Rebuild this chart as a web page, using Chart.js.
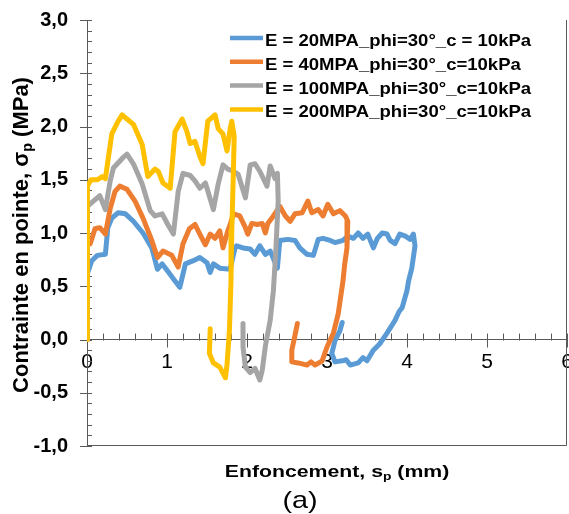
<!DOCTYPE html>
<html>
<head>
<meta charset="utf-8">
<script src="https://cdn.jsdelivr.net/npm/chart.js@4.4.1/dist/chart.umd.min.js"></script>
<style>
  html, body { margin: 0; padding: 0; background: #fff; }
</style>
</head>
<body>
<canvas id="myChart" width="569" height="514"></canvas>
<script>
// series labels and colours
const seriesLabels = [
  'E = 20MPA_phi=30°_c = 10kPa',
  'E = 40MPA_phi=30°_c=10kPa',
  'E = 100MPA_phi=30°_c=10kPa',
  'E = 200MPA_phi=30°_c=10kPa'
];
const seriesColors = ['#5B9BD5', '#ED7D31', '#A5A5A5', '#FFC000'];

// [s_p (mm), sigma_p (MPa)]
const e20 = [
  [0,0],[0,0.52],[0.01,0.62],[0.06,0.74],[0.13,0.79],[0.23,0.80],[0.26,1.05],[0.31,1.14],
  [0.39,1.19],[0.48,1.18],[0.58,1.11],[0.70,1.00],[0.81,0.86],[0.88,0.66],[0.94,0.71],
  [1.01,0.64],[1.10,0.55],[1.16,0.49],[1.23,0.71],[1.33,0.74],[1.41,0.77],[1.50,0.72],
  [1.54,0.63],[1.58,0.71],[1.66,0.67],[1.79,0.66],[1.85,0.86],[1.87,0.88],[1.95,0.86],
  [2.04,0.85],[2.10,0.80],[2.16,0.88],[2.23,0.80],[2.29,0.83],[2.38,0.67],[2.41,0.93],
  [2.51,0.94],[2.60,0.93],[2.66,0.86],[2.75,0.80],[2.83,0.79],[2.89,0.94],[2.95,0.95],
  [3.04,0.93],[3.10,0.91],[3.20,0.93],[3.26,0.97],[3.33,0.95],[3.39,1.00],[3.45,0.95],
  [3.51,0.99],[3.58,0.86],[3.63,0.95],[3.69,1.00],[3.75,0.99],[3.79,0.93],[3.85,0.90],
  [3.91,0.99],[3.98,0.97],[4.04,0.94],[4.08,0.99],[4.10,0.88],[4.06,0.67],[4.02,0.55],
  [4.00,0.46],[3.94,0.30],[3.90,0.26],[3.85,0.18],[3.75,0.06],[3.66,-0.04],[3.58,-0.10],
  [3.50,-0.20],[3.45,-0.17],[3.39,-0.22],[3.29,-0.24],[3.24,-0.19],[3.19,-0.20],
  [3.10,-0.21],[3.06,-0.13],[3.10,-0.01],[3.16,0.08],[3.19,0.16]
];
const e40 = [
  [0,0],[0,0.88],[0.04,0.90],[0.10,1.04],[0.16,1.05],[0.23,0.99],[0.29,1.23],[0.35,1.39],
  [0.41,1.44],[0.50,1.41],[0.60,1.30],[0.70,1.14],[0.81,0.93],[0.88,0.77],[0.95,0.83],
  [1.06,0.79],[1.14,0.68],[1.20,0.90],[1.28,1.04],[1.35,1.08],[1.41,0.99],[1.48,0.89],
  [1.54,0.99],[1.60,0.95],[1.66,1.02],[1.70,0.86],[1.76,1.02],[1.79,1.08],[1.83,1.18],
  [1.91,1.16],[1.98,1.05],[2.01,0.99],[2.06,1.09],[2.13,1.08],[2.19,1.09],[2.23,1.00],
  [2.26,1.09],[2.33,1.16],[2.41,1.25],[2.48,1.16],[2.54,1.11],[2.60,1.18],[2.69,1.19],
  [2.76,1.30],[2.81,1.19],[2.89,1.22],[2.95,1.16],[3.01,1.27],[3.08,1.18],[3.16,1.21],
  [3.23,1.16],[3.26,1.11],[3.25,0.86],[3.22,0.70],[3.20,0.55],
  [3.14,0.24],[3.08,0.06],[3.00,-0.07],[2.94,-0.20],[2.85,-0.24],[2.80,-0.21],
  [2.75,-0.24],[2.64,-0.22],[2.56,-0.21],[2.56,-0.10],[2.60,0.04],[2.63,0.15]
];
const e100 = [
  [0,0],[0,1.20],[0.01,1.25],[0.08,1.30],[0.16,1.35],[0.23,1.22],[0.29,1.49],[0.33,1.61],
  [0.44,1.70],[0.50,1.74],[0.58,1.65],[0.69,1.46],[0.79,1.21],[0.85,1.16],[0.94,1.18],
  [1.01,1.08],[1.08,0.99],[1.14,1.39],[1.20,1.56],[1.29,1.54],[1.35,1.49],[1.41,1.42],
  [1.48,1.47],[1.58,1.22],[1.64,1.46],[1.70,1.64],[1.76,1.60],[1.83,1.58],[1.89,1.55],
  [1.98,1.33],[2.04,1.64],[2.10,1.65],[2.16,1.58],[2.25,1.44],[2.29,1.63],[2.35,1.51],
  [2.38,1.56],[2.39,1.30],[2.36,0.83],[2.33,0.46],[2.29,0.18],[2.23,-0.06],[2.19,-0.29],
  [2.16,-0.38],[2.10,-0.27],[2.04,-0.31],[1.98,-0.26],[1.95,-0.07],[1.95,0.15]
];
const e200 = [
  [0,0],[0,0.83],[0.01,1.44],[0.05,1.50],[0.13,1.50],[0.19,1.53],[0.23,1.51],[0.26,1.67],
  [0.31,1.93],[0.39,2.05],[0.44,2.11],[0.50,2.07],[0.58,2.02],[0.69,1.83],[0.76,1.53],
  [0.85,1.60],[0.89,1.58],[0.95,1.47],[1.04,1.42],[1.10,1.95],[1.19,2.07],[1.25,1.95],
  [1.29,1.84],[1.35,1.86],[1.41,1.72],[1.45,1.65],[1.51,2.05],[1.60,2.11],[1.64,1.98],
  [1.70,1.93],[1.75,1.77],[1.79,1.98],[1.81,2.05],[1.84,1.91],[1.83,1.58],[1.81,1.02],
  [1.80,0.55],[1.78,0.08],[1.75,-0.24],[1.73,-0.36],[1.66,-0.26],[1.58,-0.22],
  [1.53,-0.13],[1.54,0.10]
];
const seriesData = [e20, e40, e100, e200];

// axes
const xMin = 0, xMax = 6, xStep = 1, xMinorStep = 0.2;
const yMin = -1, yMax = 3, yStep = 0.5, yMinorStep = 0.1;
const xTitle = [['Enfoncement, s', false], ['p', true], [' (mm)', false]];
const yTitle = [['Contrainte en pointe, σ', false], ['p', true], [' (MPa)', false]];
const caption = '(a)';

const FONT = '"Liberation Sans", Arial, sans-serif';
const axisColor = '#595959';

function drawParts(ctx, parts, size, weight, align) {
  let w = 0;
  parts.forEach(([t, sub]) => {
    ctx.font = weight + ' ' + (sub ? size * 0.65 : size) + 'px ' + FONT;
    w += ctx.measureText(t).width;
  });
  let x = align === 'center' ? -w / 2 : 0;
  ctx.textAlign = 'left';
  ctx.textBaseline = 'alphabetic';
  parts.forEach(([t, sub]) => {
    ctx.font = weight + ' ' + (sub ? size * 0.65 : size) + 'px ' + FONT;
    ctx.fillText(t, x, sub ? size * 0.2 : 0);
    x += ctx.measureText(t).width;
  });
}

const extras = {
  id: 'extras',
  beforeDatasetsDraw(chart) {
    const ctx = chart.ctx;
    const xs = chart.scales.x, ys = chart.scales.y;
    const {left, right, top, bottom} = chart.chartArea;
    const x0 = xs.getPixelForValue(0);
    const y0 = Math.round(ys.getPixelForValue(0)) + 0.5;
    ctx.save();
    ctx.strokeStyle = axisColor;
    ctx.lineWidth = 1;
    ctx.beginPath();
    // frame on right and bottom
    ctx.moveTo(Math.round(right) - 0.5, top);
    ctx.lineTo(Math.round(right) - 0.5, Math.round(bottom) - 0.5);
    ctx.lineTo(left, Math.round(bottom) - 0.5);
    // y ticks
    const ny = Math.round((yMax - yMin) / yMinorStep);
    for (let i = 0; i <= ny; i++) {
      const v = yMin + i * yMinorStep;
      const p = Math.round(ys.getPixelForValue(v)) + 0.5;
      const major = i % Math.round(yStep / yMinorStep) === 0;
      ctx.moveTo(x0 - (major ? 7 : 0), p);
      ctx.lineTo(x0 + 5, p);
    }
    // x ticks
    const nx = Math.round((xMax - xMin) / xMinorStep);
    for (let i = 1; i <= nx; i++) {
      const v = xMin + i * xMinorStep;
      const p = Math.round(xs.getPixelForValue(v)) + 0.5;
      const major = i % Math.round(xStep / xMinorStep) === 0;
      ctx.moveTo(p, y0 - 7);
      ctx.lineTo(p, y0 + (major ? 7 : 0));
    }
    ctx.stroke();
    ctx.restore();
  },
  afterDraw(chart) {
    const ctx = chart.ctx;
    ctx.save();
    ctx.fillStyle = '#000';
    // legend
    chart.data.datasets.forEach((ds, i) => {
      const yb = 46 + i * 23.8;
      ctx.strokeStyle = ds.borderColor;
      ctx.lineWidth = 4.5;
      ctx.beginPath();
      ctx.moveTo(230, yb - 8);
      ctx.lineTo(263, yb - 8);
      ctx.stroke();
      ctx.save();
      ctx.translate(265, yb);
      ctx.scale(1.09, 1);
      drawParts(ctx, [[ds.label, false]], 17, 'bold', 'left');
      ctx.restore();
    });
    // x title
    ctx.save();
    ctx.translate(337, 477);
    ctx.scale(1.25, 1);
    drawParts(ctx, xTitle, 17, 'bold', 'center');
    ctx.restore();
    // caption
    ctx.save();
    ctx.translate(300, 508);
    ctx.scale(1.2, 1);
    drawParts(ctx, [[caption, false]], 24, 'normal', 'center');
    ctx.restore();
    // y title
    ctx.save();
    ctx.translate(28, 235);
    ctx.rotate(-Math.PI / 2);
    drawParts(ctx, yTitle, 22, 'bold', 'center');
    ctx.restore();
    ctx.restore();
  }
};

new Chart(document.getElementById('myChart'), {
  type: 'scatter',
  data: {
    datasets: seriesData.map((pts, i) => ({
      label: seriesLabels[i],
      data: pts.map(p => ({x: p[0], y: p[1]})),
      showLine: true,
      borderColor: seriesColors[i],
      backgroundColor: seriesColors[i],
      borderWidth: 5,
      pointRadius: 0,
      tension: 0,
      borderJoinStyle: 'round',
      borderCapStyle: 'round',
      order: 3 - i
    }))
  },
  options: {
    responsive: false,
    animation: false,
    layout: { padding: { top: 20, right: 2, bottom: 68, left: 0 } },
    plugins: { legend: { display: false }, tooltip: { enabled: false } },
    scales: {
      x: {
        type: 'linear',
        min: xMin, max: xMax,
        position: { y: 0 },
        grid: { display: false, drawTicks: false, tickLength: 0 },
        border: { display: true, color: axisColor, width: 1 },
        ticks: {
          stepSize: xStep,
          padding: 10,
          color: '#000',
          font: { family: FONT, size: 21 },
          maxRotation: 0
        },
        afterFit: s => { s.height = 0; s.paddingLeft = 0; s.paddingRight = 0; }
      },
      y: {
        type: 'linear',
        min: yMin, max: yMax,
        position: 'left',
        grid: { display: false, drawTicks: false, tickLength: 0 },
        border: { display: true, color: axisColor, width: 1 },
        ticks: {
          stepSize: yStep,
          padding: 19,
          color: '#000',
          font: { family: FONT, size: 20, weight: 'bold' },
          callback: v => v.toFixed(1).replace('.', ',')
        },
        afterFit: s => { s.width = 87; s.paddingTop = 0; s.paddingBottom = 0; }
      }
    }
  },
  plugins: [extras]
});
</script>
</body>
</html>
